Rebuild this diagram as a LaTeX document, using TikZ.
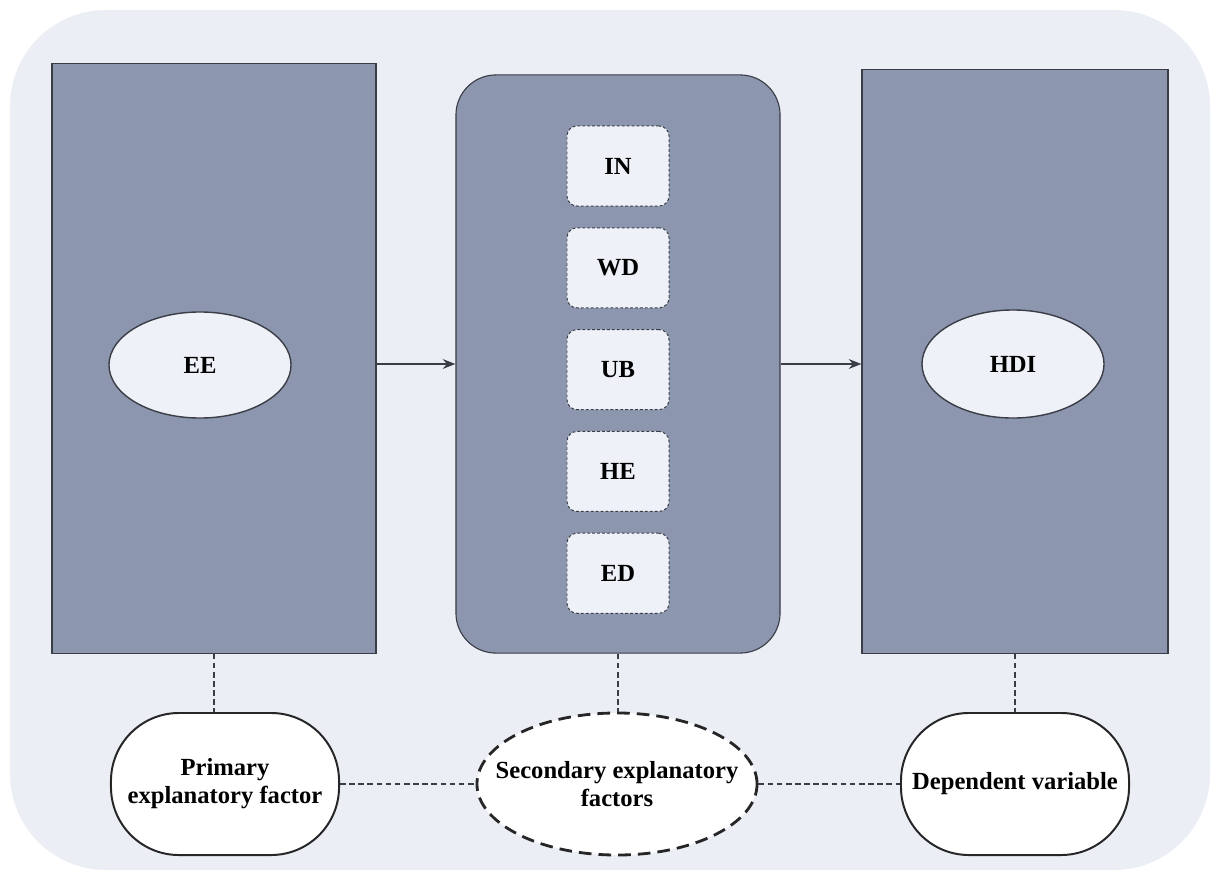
\documentclass[tikz,border=0pt]{standalone}
\usepackage{fontspec}
\setmainfont{Liberation Serif}
\usetikzlibrary{arrows.meta,positioning,shapes}

\definecolor{bgpanel}{HTML}{EBEEF5}
\definecolor{blockfill}{HTML}{8C97AF}
\definecolor{lightfill}{HTML}{EEF1F7}
\definecolor{edgegray}{HTML}{3A3D45}

\newcommand{\lblfont}{\fontsize{17.5}{20}\selectfont\bfseries}

\tikzset{
  block/.style={draw=edgegray, fill=blockfill, line width=0.8pt, inner sep=0pt},
  varbox/.style={draw=edgegray, dash pattern=on 2pt off 1.5pt, line width=0.7pt, fill=lightfill,
    rounded corners=0.25cm, minimum width=2.55cm, minimum height=2cm, font=\lblfont},
  varell/.style={ellipse, draw=edgegray, fill=lightfill, line width=1pt, inner sep=0pt,
    minimum width=4.55cm, minimum height=2.65cm, font=\lblfont},
  rolebox/.style={draw=black!85, fill=white, line width=1.4pt, rounded corners=1.7cm,
    minimum width=5.7cm, minimum height=3.55cm, align=center, font=\lblfont},
  link/.style={draw=edgegray, dash pattern=on 4pt off 2.5pt, line width=0.8pt},
}

\begin{document}
\begin{tikzpicture}[x=0.025cm, y=-0.025cm, >={Stealth[length=9pt,width=7pt]}]
  \useasboundingbox (0,0) rectangle (1214,874);
  \fill[bgpanel, rounded corners=2.4cm] (10,10) rectangle (1210,870);

  % the three blocks
  \node[block, minimum width=8.1cm, minimum height=14.725cm] (primblk) at (214,358.5) {};
  \node[block, rounded corners=1cm, minimum width=8.1cm, minimum height=14.45cm] (secblk) at (618,364) {};
  \node[block, minimum width=7.65cm, minimum height=14.575cm] (depblk) at (1015,361.5) {};

  \node[varell] (ee) at (200,365) {EE};
  \node[varell, minimum height=2.7cm] (hdi) at (1013,364) {HDI};

  % mediating variables
  \node[varbox] (in) at (618,166) {IN};
  \node[varbox, below = 0.52cm of in] (wd) {WD};
  \node[varbox, below = 0.52cm of wd] (ub) {UB};
  \node[varbox, below = 0.52cm of ub] (he) {HE};
  \node[varbox, below = 0.52cm of he] (ed) {ED};

  \draw[->, edgegray, line width=0.9pt] (primblk.east |- secblk.west) -- (secblk.west);
  \draw[->, edgegray, line width=0.9pt] (secblk.east) -- (depblk.west |- secblk.east);

  % roles
  \node[rolebox] (prim) at (225,784) {Primary\\explanatory factor};
  \node[ellipse, draw=black!85, fill=white, line width=2pt, dash pattern=on 9pt off 5pt,
        minimum width=7cm, minimum height=3.55cm, inner sep=0pt,
        label={[align=center, font=\lblfont]center:Secondary explanatory\\factors}] (sec) at (617,784) {};
  \node[rolebox] (dep) at (1015,784) {Dependent variable};

  \draw[link] (primblk.south) -- (primblk.south |- prim.north);
  \draw[link] (secblk.south) -- (secblk.south |- sec.north);
  \draw[link] (depblk.south) -- (depblk.south |- dep.north);
  \draw[link] (prim.east) -- (sec.west);
  \draw[link] (sec.east) -- (dep.west);
\end{tikzpicture}
\end{document}
